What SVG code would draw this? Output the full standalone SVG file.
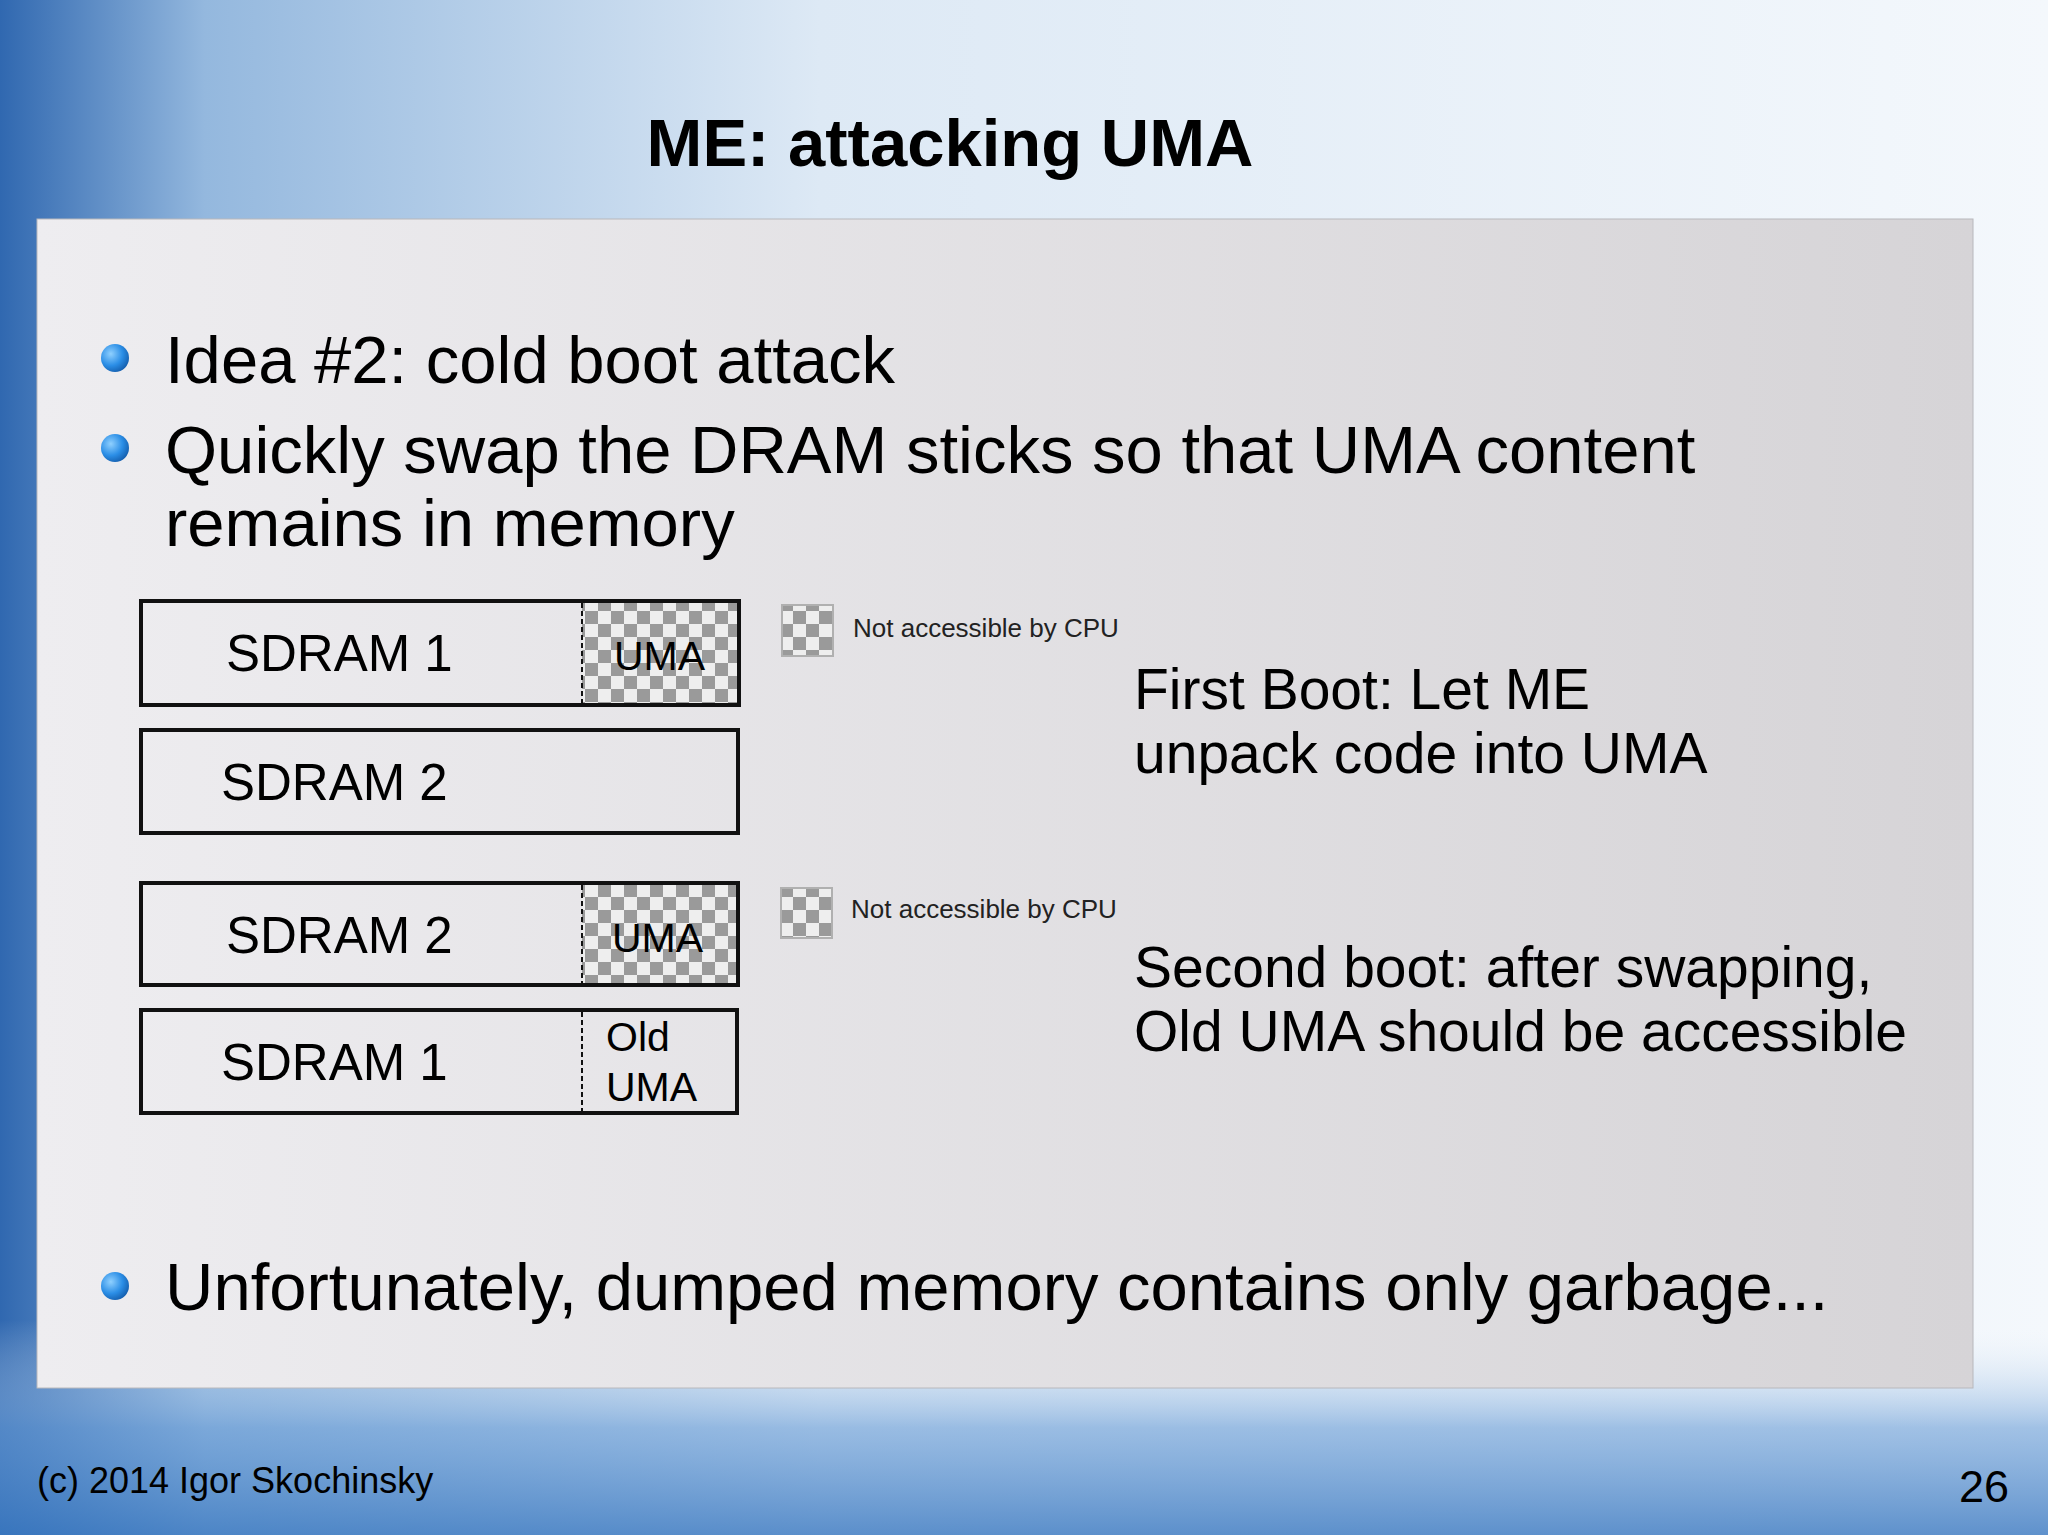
<svg xmlns="http://www.w3.org/2000/svg" width="2048" height="1535" viewBox="0 0 2048 1535">
<defs>
<linearGradient id="bgL" x1="0" y1="0" x2="1" y2="0">
<stop offset="0" stop-color="#3068b0"/><stop offset="0.1" stop-color="#94b8de"/><stop offset="0.4" stop-color="#dde9f5"/><stop offset="1" stop-color="#f4f8fc"/>
</linearGradient>
<linearGradient id="bgB" x1="0" y1="0" x2="0" y2="1">
<stop offset="0" stop-color="#ffffff" stop-opacity="0"/><stop offset="0.86" stop-color="#ffffff" stop-opacity="0"/><stop offset="0.93" stop-color="#6a9dd6" stop-opacity="0.6"/><stop offset="1" stop-color="#3a78c0" stop-opacity="0.8"/>
</linearGradient>
<linearGradient id="panel" x1="0" y1="0" x2="1" y2="0">
<stop offset="0" stop-color="#eeedf0"/><stop offset="1" stop-color="#d6d4d7"/>
</linearGradient>
<radialGradient id="dot" cx="0.35" cy="0.35" r="0.7">
<stop offset="0" stop-color="#8fd0ff"/><stop offset="0.6" stop-color="#2b8ee6"/><stop offset="1" stop-color="#1560b0"/>
</radialGradient>
<pattern id="chk" width="26" height="26" patternUnits="userSpaceOnUse">
<rect width="26" height="26" fill="#eeeeee"/><rect width="13" height="13" fill="#9a9a9a"/><rect x="13" y="13" width="13" height="13" fill="#9a9a9a"/>
</pattern>
<style>
.t{font-family:"Liberation Sans",Arial,sans-serif;fill:#000}
.box{fill:none;stroke:#111;stroke-width:4}
.div{stroke:#111;stroke-width:2;stroke-dasharray:5,3}
.sd{font-size:51px}
.um{font-size:41px}
.bul{font-size:67px}
.rt{font-size:57px}
.lg{font-size:26px;fill:#222}
</style>
</defs>
<rect width="2048" height="1535" fill="url(#bgL)"/>
<rect width="2048" height="1535" fill="url(#bgB)"/>
<text class="t" x="950" y="166" text-anchor="middle" font-size="67" font-weight="bold">ME: attacking UMA</text>
<rect x="37" y="219" width="1936" height="1169" fill="url(#panel)" stroke="#b8b8bc" stroke-width="1"/>
<g id="bullets">
<circle cx="115" cy="358" r="14" fill="url(#dot)"/>
<circle cx="115" cy="448" r="14" fill="url(#dot)"/>
<circle cx="115" cy="1286" r="14" fill="url(#dot)"/>
<text class="t bul" x="165" y="383">Idea #2: cold boot attack</text>
<text class="t bul" x="165" y="473">Quickly swap the DRAM sticks so that UMA content</text>
<text class="t bul" x="165" y="546">remains in memory</text>
<text class="t bul" x="165" y="1310">Unfortunately, dumped memory contains only garbage...</text>
</g>
<g id="box1">
<rect x="582" y="601" width="157" height="104" fill="url(#chk)"/>
<rect class="box" x="141" y="601" width="598" height="104"/>
<line class="div" x1="582" y1="603" x2="582" y2="703"/>
<text class="t sd" x="226" y="671">SDRAM 1</text>
<text class="t um" x="614" y="670">UMA</text>
</g>
<g id="box2">
<rect class="box" x="141" y="730" width="597" height="103"/>
<text class="t sd" x="221" y="800">SDRAM 2</text>
</g>
<g id="box3">
<rect x="582" y="883" width="156" height="102" fill="url(#chk)"/>
<rect class="box" x="141" y="883" width="597" height="102"/>
<line class="div" x1="582" y1="885" x2="582" y2="983"/>
<text class="t sd" x="226" y="953">SDRAM 2</text>
<text class="t um" x="612" y="952">UMA</text>
</g>
<g id="box4">
<rect class="box" x="141" y="1010" width="596" height="103"/>
<line class="div" x1="582" y1="1012" x2="582" y2="1111"/>
<text class="t sd" x="221" y="1080">SDRAM 1</text>
<text class="t um" x="606" y="1051">Old</text>
<text class="t um" x="606" y="1101">UMA</text>
</g>
<g id="legend1">
<rect x="782" y="605" width="51" height="51" fill="url(#chk)" stroke="#b0b0b0" stroke-width="2"/>
<text class="t lg" x="853" y="637">Not accessible by CPU</text>
</g>
<g id="legend2">
<rect x="781" y="888" width="51" height="50" fill="url(#chk)" stroke="#b0b0b0" stroke-width="2"/>
<text class="t lg" x="851" y="918">Not accessible by CPU</text>
</g>
<g id="notes">
<text class="t rt" x="1134" y="709">First Boot: Let ME</text>
<text class="t rt" x="1134" y="773">unpack code into UMA</text>
<text class="t rt" x="1134" y="987">Second boot: after swapping,</text>
<text class="t rt" x="1134" y="1051">Old UMA should be accessible</text>
</g>
<text class="t" x="37" y="1493" font-size="36">(c) 2014 Igor Skochinsky</text>
<text class="t" x="2009" y="1502" font-size="45" text-anchor="end">26</text>
</svg>
